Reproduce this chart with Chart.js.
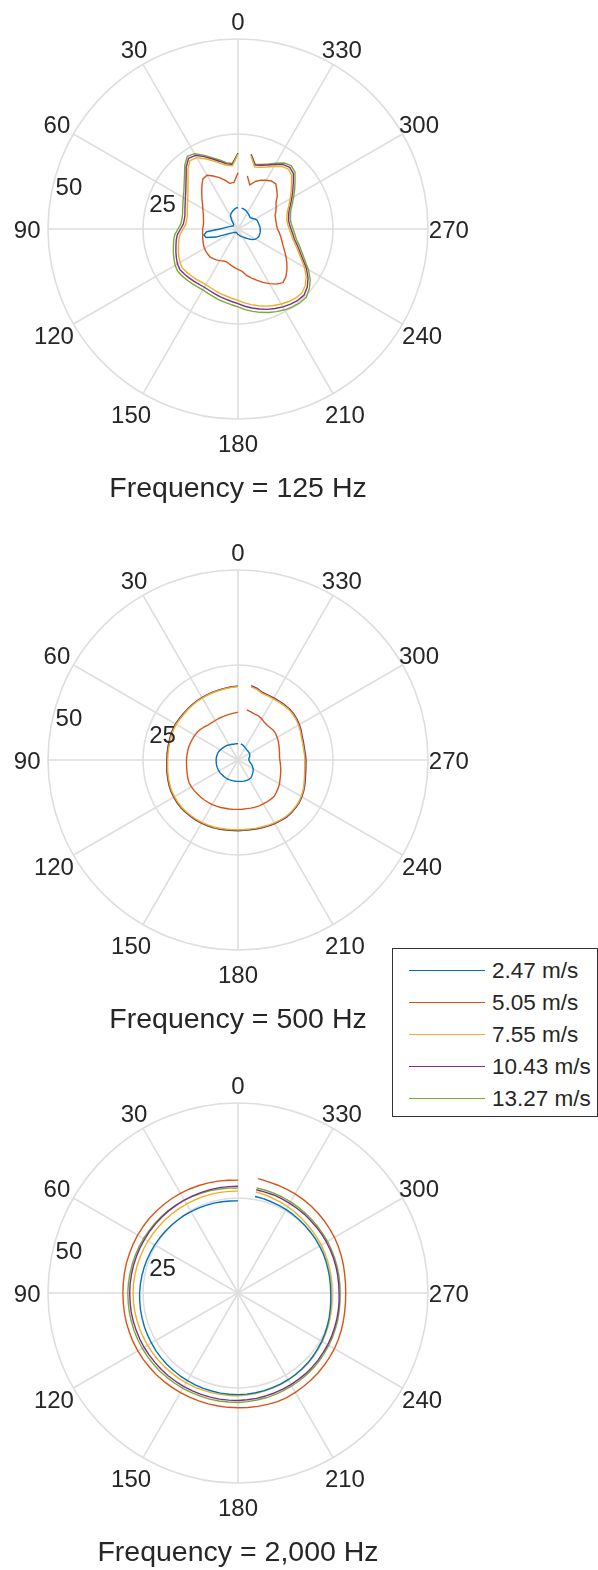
<!DOCTYPE html>
<html>
<head>
<meta charset="utf-8">
<script src="https://cdn.jsdelivr.net/npm/chart.js@4.4.1/dist/chart.umd.min.js"></script>
<style>
  html, body { margin: 0; padding: 0; background: #fff; }
  body { width: 598px; height: 1570px; overflow: hidden; position: relative;
         font-family: "Liberation Sans", Arial, Helvetica, sans-serif; }
  canvas.polar { position: absolute; left: 0; }
  #legend { position: absolute; left: 392px; top: 948px; width: 206px; height: 169px;
            box-sizing: border-box; border: 1.5px solid #333; background: #fff; z-index: 5; }
  #legend .row { position: absolute; left: 0; height: 22px; line-height: 22px; font-size: 22.5px;
                 color: #262626; white-space: nowrap; }
  #legend .swatch { position: absolute; left: 15.5px; top: 10.5px; width: 76px; height: 0;
                    border-top: 1.6px solid; }
  #legend .txt { position: absolute; left: 99px; top: 0; }
</style>
</head>
<body>
<canvas id="p125" class="polar" width="476" height="540" style="top:-11px"></canvas>
<canvas id="p500" class="polar" width="476" height="540" style="top:520px"></canvas>
<canvas id="p2000" class="polar" width="476" height="540" style="top:1053px"></canvas>
<div id="legend"></div>

<script>
// Direction angles (degrees, counter-clockwise from the top), one sample every 5 degrees.
const ANGLES = [0,5,10,15,20,25,30,35,40,45,50,55,60,65,70,75,80,85,90,95,100,105,110,115,
  120,125,130,135,140,145,150,155,160,165,170,175,180,185,190,195,200,205,210,215,220,225,230,235,
  240,245,250,255,260,265,270,275,280,285,290,295,300,305,310,315,320,325,330,335,340,345,350,355];
const ANGLE_TICKS = [0,30,60,90,120,150,180,210,240,270,300,330];
const RADIAL_TICKS = [25, 50];
const R_MAX = 50;
const R_AXIS_ANGLE = 80;
const SPEEDS = ['2.47 m/s', '5.05 m/s', '7.55 m/s', '10.43 m/s', '13.27 m/s'];
const COLORS = ['#0072BD', '#D95319', '#EDB120', '#7E2F8E', '#77AC30'];
const FREQUENCIES = ['125 Hz', '500 Hz', '2,000 Hz'];

// ---- 125 Hz ----
const F125_V247 = [5.65,5.55,5.3,5.0,4.7,4.4,4.0,3.0,2.0,1.6,1.5,1.5,
  1.6,1.8,2.0,2.4,2.9,3.6,4.8,8.3,9.1,8.7,6.2,3.2,
  2.2,1.8,1.5,1.3,1.2,1.1,1.0,1.0,1.0,1.1,1.2,1.3,
  1.4,1.5,1.6,1.8,2.0,2.2,2.4,2.7,3.1,3.6,4.2,4.8,
  5.3,5.6,5.8,5.85,5.9,5.9,5.85,5.8,5.7,5.6,5.55,5.5,
  5.2,4.8,4.5,4.4,4.6,4.8,5.0,5.2,5.35,5.5,5.6,null];
const F125_V505 = [14.8,12.3,12.2,13.3,14.4,15.4,16.35,16.1,14.8,13.5,12.4,11.4,
  10.7,10.1,9.7,9.4,9.2,9.2,9.3,9.35,9.45,9.6,9.8,10.0,
  10.2,10.3,10.35,10.4,10.2,9.9,9.6,9.3,9.15,9.4,9.8,10.2,
  10.6,11.1,12.3,13.3,14.3,15.5,16.6,17.7,18.4,17.8,16.8,15.7,
  14.6,13.5,12.6,11.95,11.4,10.9,10.4,10.2,10.2,10.25,10.4,11.0,
  11.6,12.2,13.5,14.45,15.5,15.4,14.8,14.2,13.3,12.0,14.2,null];
const F125_V755 = [19.7,16.7,17.0,17.9,19.1,20.4,21.7,22.0,20.5,18.6,17.2,16.1,
  15.3,14.7,14.2,13.8,13.7,13.8,14.4,15.3,15.8,16.2,16.7,17.2,
  17.6,17.85,17.65,17.4,17.2,17.0,16.9,17.05,17.3,17.6,17.9,18.3,
  18.8,19.5,20.2,20.9,21.6,22.2,22.8,23.3,23.7,23.8,23.1,21.9,
  20.2,18.3,16.8,15.6,14.6,14.0,13.5,13.15,13.05,13.35,13.85,14.8,
  15.85,17.05,18.4,19.95,20.6,20.1,19.0,18.0,17.3,16.9,19.6,null];
const F125_V1043 = [19.9,17.1,17.4,18.4,19.6,21.0,22.4,22.7,21.2,19.3,17.9,16.8,
  16.0,15.35,14.85,14.45,14.35,14.45,15.1,16.0,16.5,16.9,17.4,17.9,
  18.4,18.65,18.45,18.2,18.0,17.8,17.7,17.85,18.1,18.45,18.75,19.15,
  19.65,20.4,21.1,21.8,22.5,23.1,23.65,24.15,24.5,24.6,23.8,22.5,
  20.8,18.8,17.3,16.1,15.05,14.45,13.95,13.6,13.5,13.8,14.3,15.25,
  16.35,17.6,19.0,20.6,21.2,20.7,19.6,18.6,17.85,17.4,19.9,null];
const F125_V1327 = [20.0,17.3,17.7,18.8,20.0,21.45,22.9,23.3,21.8,19.9,18.5,17.4,
  16.6,16.0,15.5,15.1,15.0,15.1,15.8,16.7,17.2,17.6,18.1,18.6,
  19.1,19.4,19.2,19.0,18.8,18.6,18.5,18.7,18.95,19.3,19.6,20.0,
  20.5,21.3,22.0,22.7,23.4,24.0,24.55,25.05,25.35,25.4,24.5,23.2,
  21.4,19.4,17.9,16.7,15.6,15.0,14.5,14.1,14.0,14.3,14.8,15.8,
  16.9,18.2,19.6,21.2,21.8,21.2,20.0,18.9,18.1,17.6,20.0,null];

// ---- 500 Hz ----
const F500_V247 = [4.3,4.3,4.3,4.3,4.4,4.5,4.6,4.75,4.85,4.95,5.05,5.2,
  5.35,5.5,5.6,5.65,5.7,5.75,5.75,5.75,5.8,5.8,5.8,5.8,
  5.8,5.78,5.75,5.72,5.7,5.7,5.7,5.68,5.65,5.63,5.62,5.62,
  5.63,5.65,5.7,5.75,5.8,5.85,5.85,5.8,5.6,5.35,5.1,4.85,
  4.6,4.25,3.9,3.5,3.2,3.0,2.85,2.85,2.95,3.15,3.3,3.4,
  3.5,3.5,3.5,3.5,3.55,3.65,3.75,3.9,4.05,4.2,4.3,null];
const F500_V505 = [12.6,12.4,12.25,12.15,12.1,12.05,12.0,12.0,12.1,12.4,12.7,12.95,
  13.1,13.2,13.3,13.4,13.45,13.5,13.55,13.6,13.7,13.85,14.05,14.2,
  14.15,14.05,13.95,13.85,13.75,13.65,13.55,13.4,13.3,13.15,13.1,13.05,
  13.0,13.0,13.0,13.1,13.2,13.3,13.3,13.4,13.45,13.5,13.2,12.9,
  12.6,12.2,11.9,11.65,11.4,11.2,11.0,10.95,11.1,11.25,11.45,11.7,
  11.9,12.1,12.15,12.0,11.95,12.1,12.5,12.8,12.85,13.1,13.4,null];
const F500_V755 = [19.3,19.2,19.05,18.95,18.9,18.85,18.8,18.8,18.75,18.7,18.65,18.7,
  18.75,18.75,18.65,18.55,18.5,18.5,18.5,18.6,18.75,18.9,19.1,19.25,
  19.3,19.35,19.35,19.25,19.15,19.1,18.95,18.85,18.75,18.6,18.45,18.4,
  18.35,18.35,18.4,18.55,18.7,18.9,19.1,19.3,19.5,19.55,19.5,19.45,
  19.2,18.9,18.5,18.1,17.8,17.65,17.6,17.55,17.5,17.6,17.75,18.1,
  18.4,18.65,18.8,18.85,18.75,18.65,18.6,18.6,18.65,19.25,19.6,null];
const F500_V1043 = [19.45,19.35,19.2,19.1,19.05,19.0,18.95,18.95,18.9,18.85,18.85,18.9,
  18.95,18.95,18.85,18.75,18.7,18.7,18.7,18.8,18.95,19.1,19.3,19.45,
  19.5,19.55,19.55,19.45,19.35,19.3,19.15,19.05,18.95,18.8,18.65,18.6,
  18.55,18.55,18.6,18.75,18.9,19.1,19.3,19.5,19.7,19.75,19.7,19.65,
  19.4,19.1,18.75,18.35,18.1,17.95,17.9,17.8,17.75,17.85,18.0,18.35,
  18.65,18.9,19.05,19.1,19.0,18.9,18.85,18.85,18.9,19.5,19.9,null];
const F500_V1327 = [19.4,19.3,19.15,19.05,19.0,19.0,18.97,18.95,18.9,18.85,18.82,18.9,
  19.0,19.0,18.9,18.8,18.77,18.75,18.73,18.85,19.0,19.15,19.35,19.5,
  19.56,19.6,19.6,19.5,19.4,19.33,19.2,19.1,19.0,18.85,18.7,18.62,
  18.6,18.6,18.62,18.8,18.95,19.12,19.3,19.5,19.72,19.75,19.68,19.6,
  19.3,19.0,18.6,18.2,17.9,17.75,17.7,17.62,17.6,17.7,17.87,18.2,
  18.5,18.75,18.9,18.95,18.85,18.75,18.72,18.7,18.7,19.35,19.7,null];

// ---- 2,000 Hz ----
const F2000_V247 = [24.25,24.3,24.4,24.5,24.55,24.65,24.75,24.85,24.9,25.0,25.1,25.2,
  25.3,25.4,25.5,25.6,25.7,25.8,25.9,25.95,26.05,26.1,26.2,26.25,
  26.3,26.4,26.45,26.5,26.55,26.6,26.6,26.65,26.7,26.7,26.75,26.75,
  26.75,26.7,26.65,26.6,26.5,26.45,26.35,26.25,26.1,26.0,25.8,25.6,
  25.45,25.25,25.05,24.85,24.65,24.5,24.4,24.4,24.45,24.5,24.6,24.7,
  24.75,24.85,24.9,25.0,25.1,25.25,25.35,25.45,25.55,25.7,25.8,null];
const F2000_V505 = [29.7,29.8,29.9,30.0,30.1,30.2,30.3,30.35,30.4,30.45,30.5,30.5,
  30.5,30.45,30.4,30.4,30.35,30.3,30.3,30.3,30.35,30.4,30.4,30.45,
  30.45,30.45,30.4,30.4,30.35,30.3,30.3,30.25,30.2,30.2,30.2,30.2,
  30.2,30.25,30.3,30.35,30.4,30.35,30.2,30.05,29.9,29.75,29.6,29.45,
  29.3,29.1,28.9,28.7,28.5,28.4,28.35,28.4,28.5,28.7,28.9,29.1,
  29.3,29.45,29.6,29.75,29.9,30.0,30.1,30.15,30.25,30.35,30.55,null];
const F2000_V755 = [26.8,26.85,26.9,26.95,27.0,27.0,27.05,27.1,27.15,27.2,27.25,27.3,
  27.35,27.4,27.45,27.5,27.55,27.6,27.6,27.6,27.6,27.55,27.55,27.5,
  27.5,27.45,27.45,27.4,27.35,27.35,27.3,27.25,27.2,27.15,27.1,27.1,
  27.05,26.95,26.85,26.75,26.65,26.55,26.45,26.3,26.2,26.1,25.95,25.75,
  25.6,25.45,25.3,25.1,24.95,24.8,24.7,24.75,24.8,24.9,25.05,25.15,
  25.3,25.4,25.5,25.6,25.8,26.0,26.2,26.4,26.6,26.8,27.0,null];
const F2000_V1043 = [28.1,28.1,28.15,28.15,28.2,28.2,28.25,28.25,28.3,28.3,28.3,28.35,
  28.35,28.4,28.4,28.45,28.45,28.5,28.5,28.5,28.55,28.55,28.55,28.55,
  28.55,28.5,28.5,28.5,28.5,28.45,28.45,28.4,28.4,28.35,28.35,28.3,
  28.3,28.2,28.15,28.05,28.0,27.9,27.85,27.75,27.7,27.6,27.5,27.35,
  27.25,27.15,27.0,26.9,26.8,26.7,26.6,26.6,26.65,26.7,26.75,26.8,
  26.85,26.9,26.95,27.0,27.1,27.15,27.25,27.35,27.45,27.5,27.6,null];
const F2000_V1327 = [27.6,27.7,27.8,27.9,28.0,28.1,28.2,28.3,28.4,28.5,28.55,28.6,
  28.7,28.75,28.8,28.85,28.9,28.95,29.0,29.0,29.05,29.05,29.1,29.1,
  29.1,29.1,29.1,29.1,29.05,29.0,29.0,28.95,28.9,28.9,28.85,28.8,
  28.8,28.7,28.6,28.55,28.45,28.35,28.25,28.2,28.1,28.0,27.85,27.7,
  27.6,27.45,27.3,27.2,27.05,26.95,26.9,26.9,26.95,27.0,27.05,27.1,
  27.2,27.25,27.3,27.4,27.5,27.6,27.7,27.8,27.9,28.0,28.1,null];

const GRID_COLOR = '#dedede';
const TEXT_COLOR = '#262626';
const FONT = '"Liberation Sans", Arial, Helvetica, sans-serif';

// Angle labels, radial tick labels and the frequency caption of each polar panel.
const polarText = {
  id: 'polarText',
  afterDraw(chart, args, opts) {
    const s = chart.scales.r;
    const ctx = chart.ctx;
    const xc = s.xCenter, yc = s.yCenter, R = s.drawingArea;
    ctx.save();
    ctx.fillStyle = TEXT_COLOR;
    ctx.font = '24px ' + FONT;
    ctx.textAlign = 'center';
    ctx.textBaseline = 'alphabetic';
    const half = 0.358 * 24;
    ANGLE_TICKS.forEach(a => {
      const t = a * Math.PI / 180;
      const d = R + 20.8 - 3.5 * Math.cos(t);
      ctx.fillText(String(a), xc - d * Math.sin(t), yc - d * Math.cos(t) + half);
    });
    ctx.textAlign = 'left';
    const ta = R_AXIS_ANGLE * Math.PI / 180;
    RADIAL_TICKS.forEach(v => {
      const d = s.getDistanceFromCenterForValue(v);
      ctx.fillText(String(v), xc - d * Math.sin(ta) + 4.7, yc - d * Math.cos(ta) - 1);
    });
    ctx.textAlign = 'center';
    ctx.font = '28.5px ' + FONT;
    ctx.fillText(opts.title, xc, yc + 268);
    ctx.restore();
  }
};

// Chart.js walks the radar clockwise, so feed the samples in clockwise order
// (0, 355, 350, ... 5) to get angles growing counter-clockwise.
const ORDER = ANGLES.map((_, i) => (ANGLES.length - i) % ANGLES.length);

function polarPanel(id, series, freq) {
  new Chart(document.getElementById(id), {
    type: 'radar',
    data: {
      labels: ORDER.map(i => ANGLES[i]),
      datasets: series.map((vals, k) => ({
        label: SPEEDS[k],
        data: ORDER.map(i => vals[i]),
        borderColor: COLORS[k],
        backgroundColor: COLORS[k],
        borderWidth: 1.4,
        fill: false,
        tension: 0,
        spanGaps: false,
        borderJoinStyle: 'round',
        pointRadius: 0,
        pointHoverRadius: 0,
        pointHitRadius: 0
      }))
    },
    options: {
      responsive: false,
      animation: false,
      events: [],
      layout: { padding: { left: 48, right: 48, top: 50, bottom: 110 } },
      plugins: {
        legend: { display: false },
        tooltip: { enabled: false },
        polarText: { title: 'Frequency = ' + freq }
      },
      scales: {
        r: {
          min: 0,
          max: R_MAX,
          ticks: { display: false, stepSize: RADIAL_TICKS[0] },
          pointLabels: { display: false },
          grid: { circular: true, color: GRID_COLOR, lineWidth: 1.6 },
          angleLines: {
            display: true,
            color: c => (c.index % 6 === 0 ? GRID_COLOR : 'rgba(0,0,0,0)'),
            lineWidth: c => (c.index % 6 === 0 ? 1.6 : 0)
          }
        }
      }
    },
    plugins: [polarText]
  });
}

polarPanel('p125', [F125_V247, F125_V505, F125_V755, F125_V1043, F125_V1327], FREQUENCIES[0]);
polarPanel('p500', [F500_V247, F500_V505, F500_V755, F500_V1043, F500_V1327], FREQUENCIES[1]);
polarPanel('p2000', [F2000_V247, F2000_V505, F2000_V755, F2000_V1043, F2000_V1327], FREQUENCIES[2]);

// Shared legend box.
const legend = document.getElementById('legend');
SPEEDS.forEach((name, k) => {
  const row = document.createElement('div');
  row.className = 'row';
  row.style.top = (10.5 + 32 * k) + 'px';
  row.style.width = '200px';
  const sw = document.createElement('div');
  sw.className = 'swatch';
  sw.style.borderTopColor = COLORS[k];
  const tx = document.createElement('span');
  tx.className = 'txt';
  tx.textContent = name;
  row.appendChild(sw);
  row.appendChild(tx);
  legend.appendChild(row);
});
</script>
</body>
</html>
